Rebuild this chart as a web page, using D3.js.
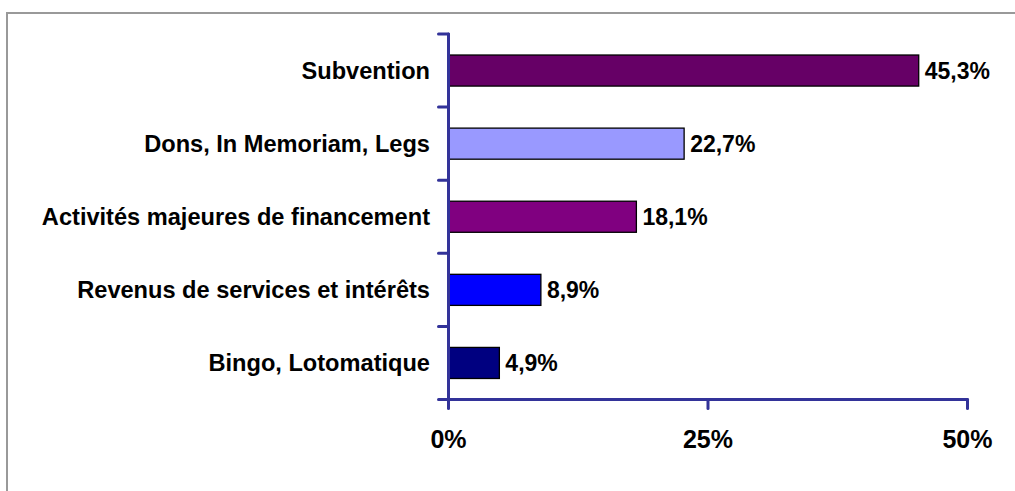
<!DOCTYPE html>
<html>
<head>
<meta charset="utf-8">
<script src="https://cdn.jsdelivr.net/npm/d3@7"></script>
<style>
    body { margin: 0; background: #ffffff; }
    svg { display: block; }
</style>
</head>
<body>
<div id="chart"><svg></svg></div>
<script>
let categories = ["Subvention", "Dons, In Memoriam, Legs", "Activités majeures de financement", "Revenus de services et intérêts", "Bingo, Lotomatique"];
let values = [45.3, 22.7, 18.1, 8.9, 4.9];
let valueLabels = ["45,3%", "22,7%", "18,1%", "8,9%", "4,9%"];
let barColors = ["#660066", "#9999ff", "#800080", "#0000ff", "#000080"];
let tickValues = [0, 25, 50];
let tickLabels = ["0%", "25%", "50%"];

function drawBarChart() {
    let width = 1015;
    let height = 491;
    let axisColor = "#333399";
    let font = "'Liberation Sans', Arial, sans-serif";

    let chart = d3.select("#chart").select("svg")
        .attr("width", width).attr("height", height)

    // outer frame, only left and top are visible
    chart.append("rect")
        .attr("x", 7).attr("y", 13)
        .attr("width", 1100).attr("height", 600)
        .style("fill", "none")
        .style("stroke", "#999999")
        .style("stroke-width", 2)

    let left = 448.5, right = 967.5, top = 34, bottom = 399.5;

    let xscale = d3.scaleLinear()
        .domain([0, 50])
        .range([left, right])

    let yscale = d3.scaleBand()
        .domain(categories)
        .range([top, bottom])
        .paddingInner(0.575)
        .paddingOuter(0.2875)

    let bandEdges = d3.range(categories.length + 1).map(i => top + i * (bottom - top) / categories.length)

    // bars
    chart.selectAll("rect.bar").data(categories)
        .enter().append("rect")
        .attr("class", "bar")
        .attr("x", xscale(0))
        .attr("y", d => yscale(d))
        .attr("width", (d, i) => xscale(values[i]) - xscale(0))
        .attr("height", yscale.bandwidth())
        .style("fill", (d, i) => barColors[i])
        .style("stroke", "#000000")
        .style("stroke-width", 1.3)

    // value labels
    chart.selectAll("text.value").data(categories)
        .enter().append("text")
        .attr("class", "value")
        .attr("x", (d, i) => xscale(values[i]) + 6)
        .attr("y", d => yscale(d) + yscale.bandwidth() / 2)
        .attr("dy", "0.36em")
        .style("font-family", font)
        .style("font-weight", "bold")
        .style("font-size", "23px")
        .text((d, i) => valueLabels[i])

    // category labels
    chart.selectAll("text.cat").data(categories)
        .enter().append("text")
        .attr("class", "cat")
        .attr("x", 430)
        .attr("y", d => yscale(d) + yscale.bandwidth() / 2)
        .attr("dy", "0.36em")
        .style("text-anchor", "end")
        .style("font-family", font)
        .style("font-weight", "bold")
        .style("font-size", "23.6px")
        .text(d => d)

    // axes
    let axes = chart.append("g")
        .style("stroke", axisColor)
        .style("stroke-width", 3)
        .style("stroke-linecap", "round")

    axes.append("line")
        .attr("x1", left).attr("x2", left)
        .attr("y1", top).attr("y2", bottom)
    axes.append("line")
        .attr("x1", left).attr("x2", right)
        .attr("y1", bottom).attr("y2", bottom)

    axes.selectAll("line.ytick").data(bandEdges)
        .enter().append("line")
        .attr("class", "ytick")
        .attr("x1", left - 10).attr("x2", left)
        .attr("y1", d => d).attr("y2", d => d)

    axes.selectAll("line.xtick").data(tickValues)
        .enter().append("line")
        .attr("class", "xtick")
        .attr("x1", d => xscale(d)).attr("x2", d => xscale(d))
        .attr("y1", bottom).attr("y2", bottom + 9)

    chart.selectAll("text.xtick").data(tickValues)
        .enter().append("text")
        .attr("class", "xtick")
        .attr("x", d => xscale(d))
        .attr("y", 447.5)
        .style("text-anchor", "middle")
        .style("font-family", font)
        .style("font-weight", "bold")
        .style("font-size", "25px")
        .text((d, i) => tickLabels[i])
}

drawBarChart();
</script>
</body>
</html>
